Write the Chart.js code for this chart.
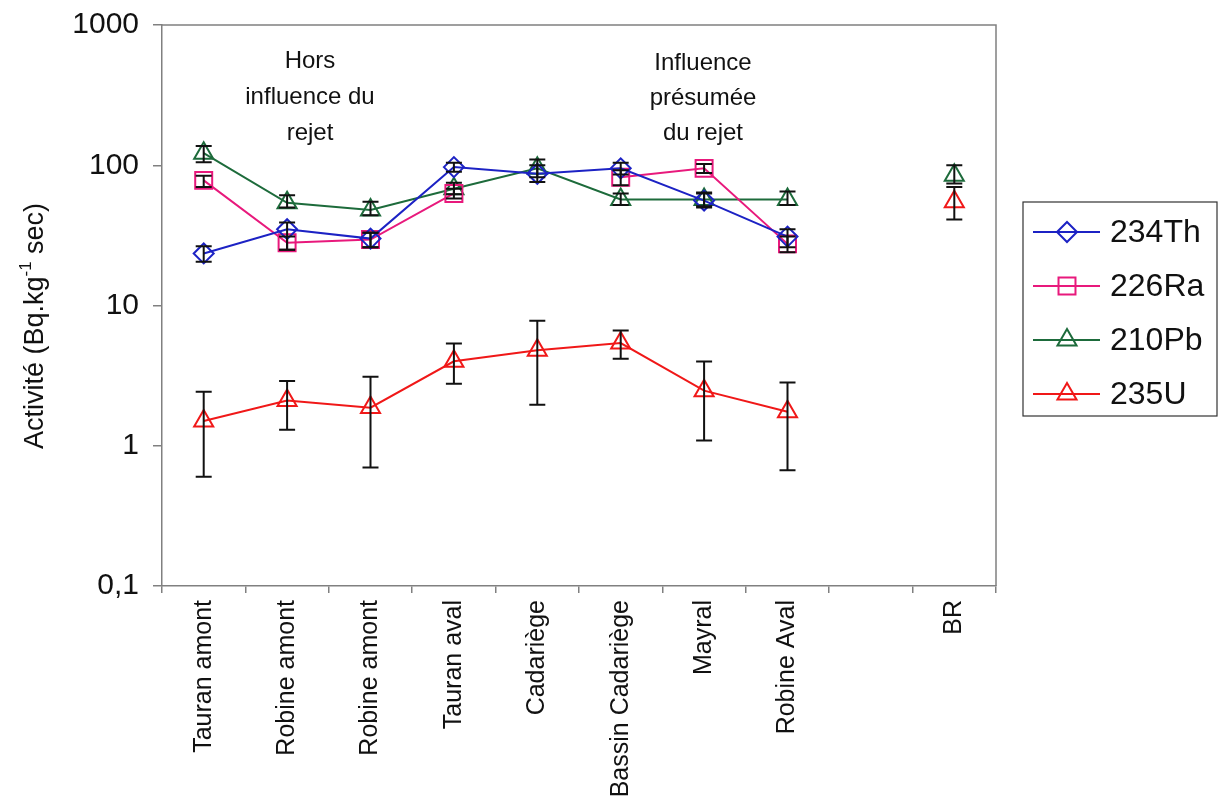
<!DOCTYPE html>
<html lang="fr">
<head>
<meta charset="utf-8">
<title>Activité des radionucléides</title>
<script src="https://cdn.jsdelivr.net/npm/chart.js@4.4.0/dist/chart.umd.min.js"></script>
<style>
  html, body { margin: 0; padding: 0; background: #fff; }
  #wrap { width: 1224px; height: 805px; }
</style>
</head>
<body>
<div id="wrap"><canvas id="graphique" width="1224" height="805"></canvas></div>
<script>
// Stations (la 9e colonne est volontairement vide, avant le bruit de fond BR)
const stations = ['Tauran amont', 'Robine amont', 'Robine amont', 'Tauran aval', 'Cadariège',
                  'Bassin Cadariège', 'Mayral', 'Robine Aval', '', 'BR'];

// Activités moyennes (Bq/kg sec)
const th234 = [23.5, 35, 30, 97, 87, 95, 56, 31, null, null];
const ra226 = [78, 28, 29.5, 63, null, 82, 95, 27.5, null, null];
const pb210 = [122, 54, 48, 68, 95, 57, 57, 57, null, 85];
const u235  = [1.5, 2.1, 1.87, 4.0, 4.8, 5.4, 2.47, 1.75, null, 55];

// Incertitudes [min, max]
const errTh234 = [[20.5, 26.5], [25, 39], [26, 33], [90, 104], [76, 100], [86, 104], [50, 63], [26, 35], null, null];
const errRa226 = [[70, 84], [25, 31], [26, 33], [58, 68], null, [72, 92], [88, 102], [24, 31], null, null];
const errPb210 = [[105, 137], [50, 61], [44, 55], [62, 75], [82, 110], [52, 63], [51, 64], [52, 65], null, [74, 100]];
const errU235  = [[0.6, 2.43], [1.3, 2.9], [0.7, 3.1], [2.77, 5.35], [1.96, 7.8], [4.18, 6.63], [1.09, 3.98], [0.67, 2.82], null, [41, 70]];

// Graduations de l'axe Y
const yTicks = [0.1, 1, 10, 100, 1000];
const yTickLabels = ['0,1', '1', '10', '100', '1000'];

const POLICE = "'Liberation Sans', Arial, sans-serif";

function serie(label, data, erreurs, couleur, style, rayon) {
    return {
        label: label,
        data: data,
        erreurs: erreurs,
        borderColor: couleur,
        borderWidth: 2,
        pointStyle: style,
        pointRadius: rayon,
        pointBorderWidth: 2,
        pointBorderColor: couleur,
        pointBackgroundColor: 'rgba(255,255,255,0)',
        spanGaps: false,
        tension: 0
    };
}

// Cadre gris autour de la zone de tracé + titre de l'axe Y avec exposant
const cadre = {
    id: 'cadre',
    afterDraw(chart) {
        const { ctx, chartArea: a } = chart;
        ctx.save();
        ctx.strokeStyle = '#808080';
        ctx.lineWidth = 1.5;
        ctx.beginPath();
        ctx.moveTo(a.left, a.top);
        ctx.lineTo(a.right, a.top);
        ctx.lineTo(a.right, a.bottom);
        ctx.stroke();

        // Titre Y : Activité (Bq.kg-1 sec)
        ctx.translate(36, 326);
        ctx.rotate(-Math.PI / 2);
        ctx.fillStyle = '#111';
        ctx.textBaseline = 'middle';
        const t1 = 'Activité (Bq.kg', sup = '-1', t2 = ' sec)';
        ctx.font = '27px ' + POLICE;
        const w1 = ctx.measureText(t1).width, w3 = ctx.measureText(t2).width;
        ctx.font = '17px ' + POLICE;
        const w2 = ctx.measureText(sup).width;
        let x = -(w1 + w2 + w3) / 2;
        ctx.font = '27px ' + POLICE;
        ctx.textAlign = 'left';
        ctx.fillText(t1, x, 0);
        x += w1;
        ctx.font = '17px ' + POLICE;
        ctx.fillText(sup, x, -10);
        x += w2;
        ctx.font = '27px ' + POLICE;
        ctx.fillText(t2, x, 0);
        ctx.restore();
    }
};

// Barres d'erreur noires, placées via les échelles du graphique
const barresErreur = {
    id: 'barresErreur',
    afterDatasetsDraw(chart) {
        const { ctx, scales: { x, y } } = chart;
        ctx.save();
        ctx.strokeStyle = '#111';
        ctx.lineWidth = 2;
        chart.data.datasets.forEach(ds => {
            ds.erreurs.forEach((e, i) => {
                if (!e) return;
                const px = x.getPixelForValue(i);
                const yb = y.getPixelForValue(e[0]);
                const yh = y.getPixelForValue(e[1]);
                ctx.beginPath();
                ctx.moveTo(px, yb); ctx.lineTo(px, yh);
                ctx.moveTo(px - 8, yb); ctx.lineTo(px + 8, yb);
                ctx.moveTo(px - 8, yh); ctx.lineTo(px + 8, yh);
                ctx.stroke();
            });
        });
        ctx.restore();
    }
};

// Annotations dans la zone de tracé
const annotations = {
    id: 'annotations',
    afterDraw(chart) {
        const ctx = chart.ctx;
        ctx.save();
        ctx.fillStyle = '#111';
        ctx.font = '24px ' + POLICE;
        ctx.textAlign = 'center';
        ctx.textBaseline = 'middle';
        ['Hors', 'influence du', 'rejet'].forEach((l, k) => ctx.fillText(l, 310, 61 + k * 36));
        ['Influence', 'présumée', 'du rejet'].forEach((l, k) => ctx.fillText(l, 703, 63 + k * 35));
        ctx.restore();
    }
};

// Légende encadrée à droite
const legende = {
    id: 'legende',
    afterDraw(chart) {
        const ctx = chart.ctx;
        ctx.save();
        ctx.strokeStyle = '#333';
        ctx.lineWidth = 1.2;
        ctx.strokeRect(1023, 202, 194, 214);
        chart.data.datasets.forEach((ds, k) => {
            const yy = 232 + k * 54;
            ctx.strokeStyle = ds.borderColor;
            ctx.lineWidth = 2;
            ctx.beginPath();
            ctx.moveTo(1033, yy); ctx.lineTo(1100, yy);
            ctx.stroke();
            ctx.fillStyle = 'rgba(255,255,255,0)';
            Chart.helpers.drawPoint(ctx, {
                pointStyle: ds.pointStyle, radius: ds.pointRadius, rotation: 0, borderWidth: 2
            }, 1067, yy);
            ctx.fillStyle = '#111';
            ctx.font = '32px ' + POLICE;
            ctx.textAlign = 'left';
            ctx.textBaseline = 'middle';
            ctx.fillText(ds.label, 1110, yy + 1);
        });
        ctx.restore();
    }
};

const ctx = document.getElementById('graphique').getContext('2d');
new Chart(ctx, {
    type: 'line',
    data: {
        labels: stations,
        datasets: [
            serie('234Th', th234, errTh234, '#1c22c4', 'rectRot', 10),
            serie('226Ra', ra226, errRa226, '#e8197c', 'rect', 12),
            serie('210Pb', pb210, errPb210, '#1d6b3b', 'triangle', 11),
            serie('235U', u235, errU235, '#f01818', 'triangle', 11)
        ]
    },
    options: {
        responsive: false,
        devicePixelRatio: 1,
        animation: false,
        layout: { padding: { left: 0, right: 228, top: 25, bottom: 0 } },
        plugins: {
            legend: { display: false },
            tooltip: { enabled: false }
        },
        scales: {
            x: {
                type: 'category',
                offset: true,
                grid: { offset: true, drawOnChartArea: false, tickLength: 7, color: '#808080', lineWidth: 1.5 },
                border: { color: '#808080', width: 1.5 },
                ticks: {
                    minRotation: 90, maxRotation: 90, autoSkip: false, padding: 7,
                    color: '#111', font: { family: POLICE, size: 25 }
                },
                afterFit(s) { s.height = 219; s.paddingLeft = 0; s.paddingRight = 0; }
            },
            y: {
                type: 'logarithmic',
                min: 0.1,
                max: 1000,
                grid: { drawOnChartArea: false, tickLength: 9, color: '#808080', lineWidth: 1.5 },
                border: { color: '#808080', width: 1.5 },
                afterBuildTicks(s) { s.ticks = yTicks.map(v => ({ value: v })); },
                ticks: {
                    padding: 14,
                    color: '#111',
                    font: { family: POLICE, size: 30 },
                    callback: (v, i) => yTickLabels[i]
                },
                afterFit(s) { s.width = 162; s.paddingTop = 0; s.paddingBottom = 0; }
            }
        }
    },
    plugins: [barresErreur, annotations, legende, cadre]
});
</script>
</body>
</html>
